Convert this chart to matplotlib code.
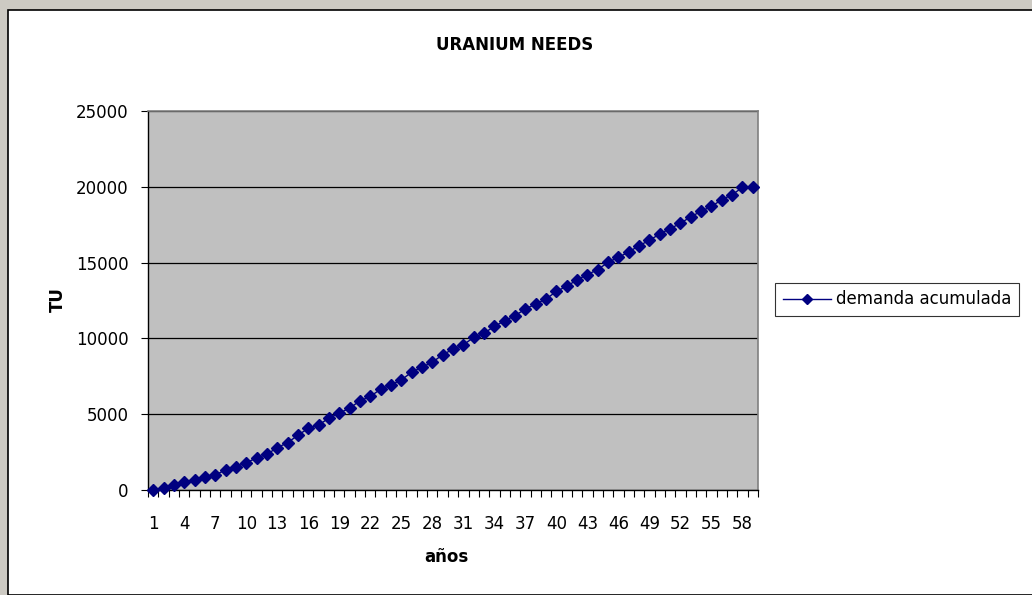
import matplotlib
matplotlib.use("Agg")
import matplotlib.pyplot as plt
import numpy as np
from matplotlib.patches import Rectangle

plt.rcParams['font.family'] = ['DejaVu Sans']

# accumulated uranium demand (TU) per year
years = list(range(1, 60))
demand = [0, 110, 310, 550, 680, 880, 990, 1320, 1540, 1800,
          2110, 2360, 2790, 3120, 3610, 4070, 4290, 4740, 5070, 5400,
          5880, 6170, 6650, 6930, 7260, 7770, 8100, 8430, 8920, 9290,
          9580, 10060, 10350, 10790, 11170, 11500, 11940, 12270, 12600, 13100,
          13440, 13860, 14210, 14540, 15020, 15350, 15700, 16120, 16470, 16890,
          17240, 17590, 18030, 18380, 18710, 19150, 19480, 19960, 19960]
y_ticks = [0, 5000, 10000, 15000, 20000, 25000]
series_name = "demanda acumulada"

W, H = 1032, 595
fig = plt.figure(figsize=(W / 100, H / 100), dpi=100)
fig.patch.set_facecolor('#cdcac3')
# white chart area with black frame
fig.patches.append(Rectangle((8 / W, 0), 1.1, 1 - 10 / H, transform=fig.transFigure,
                             facecolor='white', edgecolor='black', linewidth=1.2, zorder=-1))

ax = fig.add_axes([148 / W, 1 - 490 / H, 610 / W, 379 / H])
ax.set_facecolor('#c0c0c0')

ax.plot(years, demand, color='#000080', marker='D', markersize=6.5, linewidth=1, clip_on=False, zorder=3)

ax.set_xlim(0.5, 59.5)
ax.set_ylim(0, 25000)
ax.set_yticks(y_ticks)
ax.set_yticklabels([str(v) for v in y_ticks], fontsize=12)
ax.yaxis.grid(True, color='black', linewidth=0.9)
ax.set_axisbelow(True)

# ticks at category boundaries, labels every third category
ax.set_xticks(np.arange(0.5, 60, 1))
ax.set_xticklabels([])
ax.set_xticks(years[::3], minor=True)
ax.set_xticklabels([str(v) for v in years[::3]], minor=True, fontsize=12)
ax.tick_params(axis='x', which='major', direction='out', length=5, width=0.8)
ax.tick_params(axis='x', which='minor', length=0, pad=18)
ax.tick_params(axis='y', direction='out', length=5, width=0.8, pad=9)

for s in ['top', 'right']:
    ax.spines[s].set_color('#808080')
    ax.spines[s].set_linewidth(1.2)
for s in ['left', 'bottom']:
    ax.spines[s].set_color('black')
    ax.spines[s].set_linewidth(1)

fig.text(515 / W, 1 - 45 / H, "URANIUM NEEDS", ha='center', va='center', fontsize=12, fontweight='bold')
fig.text(446 / W, 1 - 557 / H, "años", ha='center', va='center', fontsize=12, fontweight='bold')
fig.text(58 / W, 1 - 300 / H, "TU", ha='center', va='center', rotation=90, fontsize=12, fontweight='bold')

leg = fig.legend([ax.lines[0]], [series_name], loc='upper left',
                 bbox_to_anchor=(775 / W, 1 - 283 / H), borderaxespad=0,
                 fontsize=12, fancybox=False, handlelength=2.9, handletextpad=0.3,
                 borderpad=0.45, markerscale=0.8)
leg.get_frame().set_edgecolor('black')
leg.get_frame().set_linewidth(0.8)

fig.savefig("out.png", dpi=100, facecolor=fig.get_facecolor())
